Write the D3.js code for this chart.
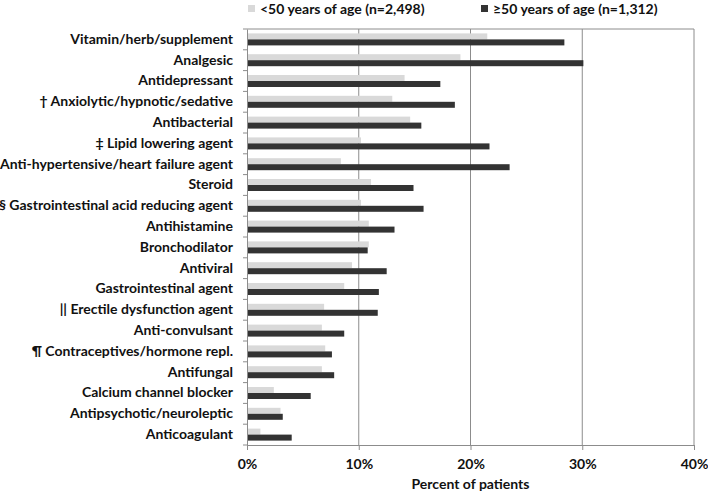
<!DOCTYPE html>
<html>
<head>
<meta charset="utf-8">
<script src="https://cdn.jsdelivr.net/npm/d3@7"></script>
<style>
  body { margin: 0; background: #fff; }
  text { font-family: Lato, "Open Sans", sans-serif; font-weight: bold; fill: #111; }
</style>
</head>
<body>
<div id="chart"></div>
<script>
var categories = [
  "Vitamin/herb/supplement",
  "Analgesic",
  "Antidepressant",
  "\u2020 Anxiolytic/hypnotic/sedative",
  "Antibacterial",
  "\u2021 Lipid lowering agent",
  "Anti-hypertensive/heart failure agent",
  "Steroid",
  "\u00a7 Gastrointestinal acid reducing agent",
  "Antihistamine",
  "Bronchodilator",
  "Antiviral",
  "Gastrointestinal agent",
  "|| Erectile dysfunction agent",
  "Anti-convulsant",
  "\u00b6 Contraceptives/hormone repl.",
  "Antifungal",
  "Calcium channel blocker",
  "Antipsychotic/neuroleptic",
  "Anticoagulant"
];
var under50 = [21.5, 19.1, 14.1, 13.0, 14.6, 10.2, 8.4, 11.1, 10.2, 10.9, 10.9, 9.4, 8.7, 6.9, 6.7, 7.0, 6.7, 2.4, 3.0, 1.2];
var over50  = [28.4, 30.1, 17.3, 18.6, 15.6, 21.7, 23.5, 14.9, 15.8, 13.2, 10.8, 12.5, 11.8, 11.7, 8.7, 7.6, 7.8, 5.7, 3.2, 4.0];
var seriesNames = ["<50 years of age (n=2,498)", "\u226550 years of age (n=1,312)"];
var xTicks = [0, 10, 20, 30, 40];

var width = 708, height = 494;
var margin = {top: 29, right: 14, bottom: 49, left: 247};
var w = width - margin.left - margin.right;
var h = height - margin.top - margin.bottom;

var svg = d3.select("#chart").append("svg")
    .attr("width", width)
    .attr("height", height);

var g = svg.append("g")
    .attr("transform", "translate(" + margin.left + "," + margin.top + ")");

var x = d3.scaleLinear().domain([0, 40]).range([0, w]);
var y = d3.scaleBand().domain(categories).range([0, h]);
var sub = d3.scaleBand().domain([0, 1]).range([y.bandwidth() / 2 - 6, y.bandwidth() / 2 + 6]);

// gridlines and frame
g.selectAll(".grid")
    .data(xTicks.slice(1))
    .enter().append("line")
    .attr("x1", function (d) { return x(d); })
    .attr("x2", function (d) { return x(d); })
    .attr("y1", 0)
    .attr("y2", h)
    .style("stroke", "#8c8c8c");
g.append("line")
    .attr("x1", 0).attr("x2", w).attr("y1", 0).attr("y2", 0)
    .style("stroke", "#8c8c8c");

var colors = ["#d9d9d9", "#333333"];
var series = [under50, over50];

series.forEach(function (vals, si) {
  g.selectAll(".bar" + si)
      .data(vals)
      .enter().append("rect")
      .attr("x", 0)
      .attr("y", function (d, i) { return y(categories[i]) + sub(si); })
      .attr("width", function (d) { return x(d); })
      .attr("height", sub.bandwidth())
      .style("fill", colors[si]);
});

// y axis
var yAxis = g.append("g")
    .call(d3.axisLeft(y).tickSize(0).tickPadding(14));
yAxis.select(".domain").style("stroke", "#8c8c8c");
yAxis.selectAll("text").style("font-size", "14px");
g.selectAll(".ytick")
    .data(d3.range(categories.length + 1))
    .enter().append("line")
    .attr("x1", -4).attr("x2", 0)
    .attr("y1", function (d) { return d * y.step(); })
    .attr("y2", function (d) { return d * y.step(); })
    .style("stroke", "#8c8c8c");

// x axis
var xAxis = g.append("g")
    .attr("transform", "translate(0," + h + ")")
    .call(d3.axisBottom(x).tickValues(xTicks).tickFormat(function (d) { return d + "%"; }).tickSize(5).tickSizeOuter(0).tickPadding(9));
xAxis.select(".domain").style("stroke", "#8c8c8c");
xAxis.selectAll("line").style("stroke", "#8c8c8c");
xAxis.selectAll("text").style("font-size", "14px");

g.append("text")
    .attr("x", w / 2)
    .attr("y", h + 44)
    .attr("text-anchor", "middle")
    .style("font-size", "14px")
    .text("Percent of patients");

// legend
var legend = svg.selectAll(".legend")
    .data(seriesNames)
    .enter().append("g")
    .attr("transform", function (d, i) { return "translate(" + (i === 0 ? 248 : 481) + ",4)"; });
legend.append("rect")
    .attr("width", 7).attr("height", 7).attr("y", 1)
    .style("fill", function (d, i) { return colors[i]; });
legend.append("text")
    .attr("x", 12).attr("y", 9.5)
    .style("font-size", "14px")
    .text(function (d) { return d; });
</script>
</body>
</html>
